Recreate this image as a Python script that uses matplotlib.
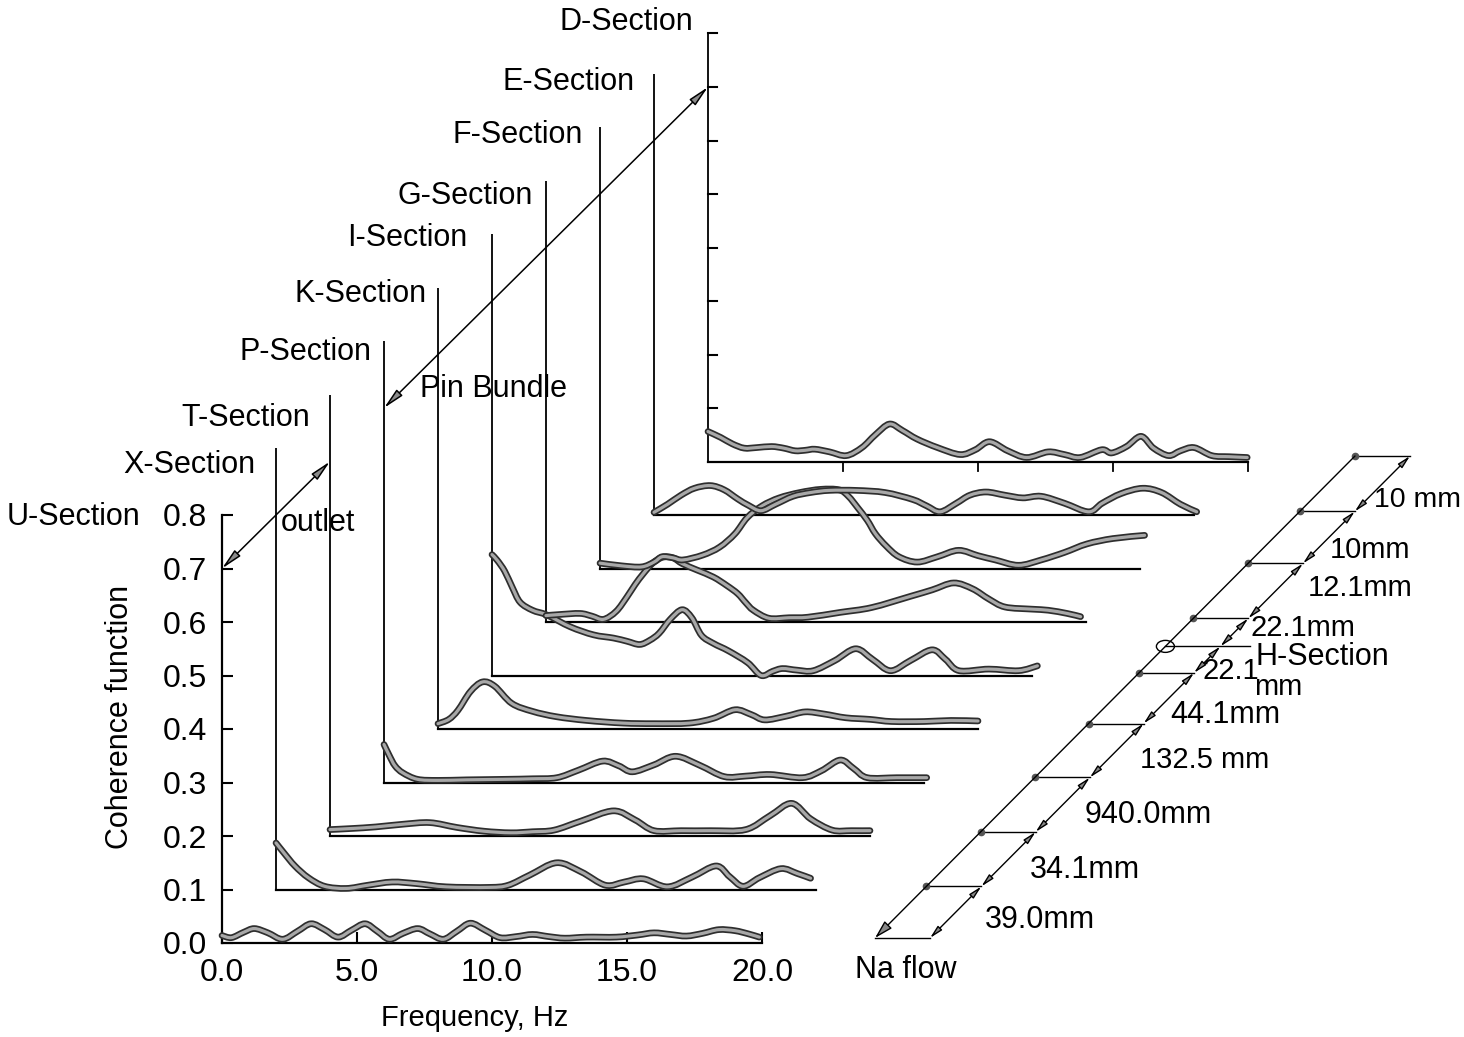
import numpy as np
import matplotlib
matplotlib.use("Agg")
import matplotlib.pyplot as plt
from matplotlib import patheffects as pe
from matplotlib.path import Path
from matplotlib.patches import PathPatch, Ellipse

plt.rcParams["font.family"] = ["Liberation Sans", "DejaVu Sans"]

# ---------------------------------------------------------------- data
section_names = ["U-Section", "X-Section", "T-Section", "P-Section", "K-Section",
                 "I-Section", "G-Section", "F-Section", "E-Section", "D-Section"]

# each section is shifted by this much in frequency (Hz) and coherence
freq_step = 2.0
coh_step = 0.1

freq_u = [0, 0.35, 0.8, 1.2, 1.7, 2.25, 2.8, 3.3, 3.8, 4.3, 4.8, 5.3, 5.75, 6.2, 6.7, 7.25,
          7.7, 8.2, 8.7, 9.2, 9.75, 10.3, 10.9, 11.5, 12.1, 12.7, 13.5, 14.6, 15.4, 16.0,
          16.6, 17.2, 17.8, 18.4, 19.0, 19.5, 19.9]
coh_u = [0.014, 0.01, 0.02, 0.027, 0.019, 0.007, 0.022, 0.036, 0.025, 0.011, 0.024, 0.036,
         0.022, 0.007, 0.018, 0.027, 0.017, 0.007, 0.022, 0.037, 0.024, 0.01, 0.012, 0.016,
         0.012, 0.009, 0.011, 0.011, 0.015, 0.019, 0.016, 0.013, 0.018, 0.025, 0.023, 0.017,
         0.011]

freq_x = [0, 0.3, 0.7, 1.2, 1.8, 2.6, 3.4, 4.3, 5.2, 6.3, 7.9, 8.6, 9.4, 10.4, 11.3, 12.2,
          12.9, 13.6, 14.5, 15.4, 16.3, 16.8, 17.3, 17.9, 18.7, 19.3, 19.8]
coh_x = [0.087, 0.068, 0.044, 0.022, 0.006, 0.002, 0.008, 0.014, 0.011, 0.005, 0.004, 0.008,
         0.027, 0.05, 0.033, 0.008, 0.014, 0.02, 0.005, 0.023, 0.044, 0.024, 0.006, 0.022,
         0.039, 0.03, 0.021]

freq_t = [0, 0.8, 1.7, 2.7, 3.7, 4.7, 5.7, 6.7, 7.5, 8.3, 9.3, 10.5, 11.3, 12.0, 13.0, 14.1,
          15.4, 16.3, 17.1, 17.8, 18.6, 19.3, 20.0]
coh_t = [0.012, 0.014, 0.017, 0.022, 0.025, 0.016, 0.009, 0.006, 0.008, 0.011, 0.028, 0.047,
         0.03, 0.01, 0.01, 0.01, 0.012, 0.038, 0.061, 0.032, 0.011, 0.01, 0.01]

freq_p = [0, 0.2, 0.41, 0.7, 1.24, 2.0, 3.06, 4.5, 5.5, 6.4, 7.2, 8.1, 8.7, 9.2, 10.0, 10.8,
          11.7, 12.6, 13.4, 14.3, 15.5, 16.2, 16.9, 17.4, 17.9, 19.0, 20.1]
coh_p = [0.071, 0.05, 0.031, 0.018, 0.006, 0.004, 0.005, 0.006, 0.007, 0.009, 0.023, 0.04,
         0.031, 0.02, 0.033, 0.049, 0.032, 0.011, 0.012, 0.015, 0.009, 0.022, 0.042, 0.026,
         0.009, 0.009, 0.009]

freq_k = [0, 0.4, 0.74, 1.2, 1.65, 2.1, 2.73, 3.5, 4.38, 5.5, 6.86, 8.0, 9.3, 10.2, 11.0,
          11.6, 12.1, 12.9, 13.6, 14.3, 15.1, 16.0, 16.8, 18.0, 19.0, 20.0]
coh_k = [0.01, 0.018, 0.035, 0.07, 0.088, 0.08, 0.048, 0.033, 0.023, 0.016, 0.011, 0.01,
         0.011, 0.02, 0.036, 0.027, 0.017, 0.024, 0.032, 0.028, 0.021, 0.018, 0.014, 0.014,
         0.016, 0.015]

freq_i = [0, 0.2, 0.47, 0.75, 1.04, 1.5, 2.04, 2.9, 3.76, 4.5, 5.0, 5.47, 5.85, 6.19, 6.6,
          7.04, 7.4, 7.76, 8.2, 8.76, 9.47, 9.97, 10.4, 10.76, 11.3, 11.9, 12.7, 13.47, 14.1,
          14.76, 15.5, 16.3, 16.8, 17.3, 18.4, 19.5, 20.2]
coh_i = [0.226, 0.215, 0.195, 0.165, 0.137, 0.122, 0.113, 0.091, 0.076, 0.07, 0.064, 0.058,
         0.066, 0.079, 0.105, 0.123, 0.108, 0.075, 0.06, 0.046, 0.024, 0.0, 0.008, 0.013,
         0.01, 0.009, 0.028, 0.05, 0.03, 0.009, 0.028, 0.048, 0.03, 0.009, 0.012, 0.009,
         0.018]

freq_g = [0, 0.5, 1.26, 1.7, 2.13, 2.6, 3.0, 3.3, 3.6, 3.95, 4.32, 4.7, 5.05, 5.6, 6.2, 6.7,
          7.1, 7.4, 7.68, 8.26, 9.0, 9.7, 10.9, 12.06, 13.5, 14.3, 15.1, 15.8, 16.4, 17.0,
          18.0, 18.6, 19.3, 19.8]
coh_g = [0.012, 0.014, 0.016, 0.011, 0.005, 0.02, 0.047, 0.07, 0.09, 0.11, 0.121, 0.12,
         0.109, 0.097, 0.084, 0.068, 0.053, 0.036, 0.022, 0.007, 0.008, 0.009, 0.018, 0.027,
         0.048, 0.06, 0.073, 0.062, 0.043, 0.028, 0.024, 0.022, 0.016, 0.01]

freq_f = [0, 0.8, 1.54, 2.0, 2.3, 2.7, 3.07, 3.8, 4.43, 5.0, 5.45, 6.0, 6.64, 7.4, 8.18,
          8.86, 9.2, 9.54, 9.9, 10.2, 10.6, 11.07, 11.75, 12.5, 13.28, 14.0, 14.64, 15.5,
          16.34, 17.2, 18.04, 19.0, 20.17]
coh_f = [0.01, 0.005, 0.003, 0.012, 0.022, 0.02, 0.016, 0.025, 0.04, 0.065, 0.095, 0.117,
         0.132, 0.142, 0.148, 0.147, 0.135, 0.114, 0.09, 0.065, 0.042, 0.022, 0.012, 0.022,
         0.034, 0.024, 0.016, 0.006, 0.016, 0.03, 0.046, 0.056, 0.062]

freq_e = [0, 0.5, 1.0, 1.5, 2.09, 2.6, 3.1, 3.5, 3.96, 4.5, 5.15, 5.8, 6.5, 7.5, 8.56, 9.58,
          10.1, 10.6, 11.2, 11.7, 12.3, 13.0, 13.66, 14.34, 15.2, 16.1, 16.6, 17.3, 18.1,
          18.8, 19.5, 20.1]
coh_e = [0.005, 0.02, 0.037, 0.05, 0.055, 0.047, 0.03, 0.018, 0.008, 0.02, 0.035, 0.042,
         0.046, 0.046, 0.042, 0.029, 0.017, 0.006, 0.022, 0.037, 0.043, 0.037, 0.032, 0.035,
         0.022, 0.006, 0.022, 0.04, 0.05, 0.042, 0.02, 0.006]

freq_d = [0, 0.47, 0.9, 1.34, 1.8, 2.36, 2.8, 3.23, 3.6, 3.96, 4.5, 5.12, 5.7, 6.2, 6.72,
          7.2, 7.74, 8.5, 9.34, 9.9, 10.43, 11.1, 11.8, 12.6, 13.2, 13.78, 14.58, 14.95,
          15.5, 16.04, 16.5, 17.06, 17.5, 18.0, 18.66, 19.3, 19.97]
coh_d = [0.056, 0.045, 0.033, 0.025, 0.026, 0.028, 0.025, 0.02, 0.021, 0.023, 0.018, 0.011,
         0.026, 0.05, 0.07, 0.058, 0.042, 0.026, 0.013, 0.022, 0.037, 0.02, 0.0075, 0.018,
         0.013, 0.0075, 0.022, 0.016, 0.028, 0.047, 0.025, 0.011, 0.02, 0.026, 0.011, 0.009,
         0.0075]

section_freqs = [freq_u, freq_x, freq_t, freq_p, freq_k, freq_i, freq_g, freq_f, freq_e, freq_d]
section_cohs = [coh_u, coh_x, coh_t, coh_p, coh_k, coh_i, coh_g, coh_f, coh_e, coh_d]

freq_ticks = [0, 5, 10, 15, 20]
freq_ticklabels = ["0.0", "5.0", "10.0", "15.0", "20.0"]
coh_ticks = [0.0, 0.1, 0.2, 0.3, 0.4, 0.5, 0.6, 0.7, 0.8]
coh_ticklabels = ["0.0", "0.1", "0.2", "0.3", "0.4", "0.5", "0.6", "0.7", "0.8"]

# spacing labels along the test section (from the inlet end upwards)
gap_labels = ["39.0mm", "34.1mm", "940.0mm", "132.5 mm", "44.1mm", "22.1",
              "22.1mm", "12.1mm", "10mm", "10 mm"]

# ---------------------------------------------------------------- layout
W, H = 1464, 1037
fig = plt.figure(figsize=(W / 100, H / 100), dpi=100)

# pixel overlay for free-standing annotations
ov = fig.add_axes([0, 0, 1, 1], zorder=0)
ov.set_xlim(0, W)
ov.set_ylim(H, 0)
ov.axis("off")

# front (U-Section) axes; the other sections are stacked in its data space
x0_px, x1_px, y0_px, y1_px = 222, 762, 943, 515
ax = fig.add_axes([x0_px / W, (H - y0_px) / H, (x1_px - x0_px) / W, (y0_px - y1_px) / H],
                  zorder=1)
ax.patch.set_visible(False)
ax.set_xlim(0, 20)
ax.set_ylim(0, 0.8)
for s in ("top", "right"):
    ax.spines[s].set_visible(False)
for s in ("left", "bottom"):
    ax.spines[s].set_linewidth(1.6)
ax.set_xticks(freq_ticks)
ax.set_xticklabels(freq_ticklabels)
ax.set_yticks(coh_ticks)
ax.set_yticklabels(coh_ticklabels)
ax.tick_params(axis="both", direction="in", length=8, width=1.5, labelsize=23)
ax.tick_params(axis="x", pad=11)
ax.tick_params(axis="y", pad=11)

line_kw = dict(color="black", lw=1.3, clip_on=False, zorder=2, solid_capstyle="butt")

# per-section frames (vertical reference line + baseline)
vert_height = 0.825
px_per_hz = (x1_px - x0_px) / 20.0
px_per_coh = (y0_px - y1_px) / 0.8
for k in range(1, len(section_names)):
    bx, by = freq_step * k, coh_step * k
    top = 0.8 if k == len(section_names) - 1 else vert_height
    ax.plot([bx, bx], [by, by + top], **line_kw)
    ax.plot([bx, bx + 20], [by, by], color="black", lw=1.6, clip_on=False, zorder=2)

# rear (D-Section) axis ticks
kd = len(section_names) - 1
bxd, byd = freq_step * kd, coh_step * kd
tick_dx = 9 / px_per_hz
tick_dy = 9 / px_per_coh
for t in coh_ticks[1:]:
    ax.plot([bxd, bxd + tick_dx], [byd + t, byd + t], color="black", lw=1.5,
            clip_on=False, zorder=2)
for t in freq_ticks[1:]:
    ax.plot([bxd + t, bxd + t], [byd, byd - tick_dy], color="black", lw=1.3,
            clip_on=False, zorder=2)


def smooth_path(x, y):
    """Catmull-Rom curve through the points, as cubic Bezier segments."""
    pts = np.column_stack([x, y])
    n = len(pts)
    verts, codes = [pts[0]], [Path.MOVETO]
    for i in range(n - 1):
        p0 = pts[i - 1] if i > 0 else pts[i]
        p1, p2 = pts[i], pts[i + 1]
        p3 = pts[i + 2] if i + 2 < n else pts[i + 1]
        verts += [p1 + (p2 - p0) / 6.0, p2 - (p3 - p1) / 6.0, p2]
        codes += [Path.CURVE4] * 3
    return Path(verts, codes)


for k, (f, c) in enumerate(zip(section_freqs, section_cohs)):
    xs = np.asarray(f) + freq_step * k
    ys = np.asarray(c) + coh_step * k
    patch = PathPatch(smooth_path(xs, ys), fill=False, ec="#a8a8a8", lw=2.3,
                      transform=ax.transData, clip_on=False, zorder=4,
                      joinstyle="round", capstyle="round",
                      path_effects=[pe.Stroke(linewidth=4.8, foreground="#2e2e2e"),
                                    pe.Normal()])
    ax.add_patch(patch)

# double arrows linking the equal-height points of the frames
arrow_kw = dict(arrowstyle="<|-|>,head_length=0.9,head_width=0.18", lw=1.1,
                color="black", fc="#8a8a8a", shrinkA=0, shrinkB=0, mutation_scale=14)
ax.annotate("", xy=(0, 0.7), xytext=(freq_step * 2, coh_step * 2 + 0.7),
            arrowprops=arrow_kw, annotation_clip=False)
ax.annotate("", xy=(freq_step * 3, coh_step * 3 + 0.7),
            xytext=(freq_step * 9, coh_step * 9 + 0.7),
            arrowprops=arrow_kw, annotation_clip=False)

# section names
label_pos = [(140, 517), (255, 465), (310, 418), (372, 352), (427, 294),
             (467, 238), (533, 196), (583, 135), (635, 82), (693, 22)]
for name, (lx, ly) in zip(section_names, label_pos):
    ov.text(lx, ly, name, ha="right", va="center", fontsize=22)

ov.text(420, 389, "Pin Bundle", ha="left", va="center", fontsize=22)
ov.text(281, 523, "outlet", ha="left", va="center", fontsize=22)
ov.text(120, 717, "Coherence function", rotation=90, ha="center", va="center",
        fontsize=22)
ov.text(475, 1018, "Frequency, Hz", ha="center", va="center", fontsize=21)

# ------------------------------------------------ test-section sketch (pixels)
bl, br = np.array([875.0, 938.0]), np.array([930.0, 938.0])
tl, tr = np.array([1355.0, 456.0]), np.array([1410.0, 456.0])
rung_t = [0.0, 0.107, 0.22, 0.333, 0.445, 0.55, 0.605, 0.663, 0.777, 0.885, 1.0]
h_index = 6


def left_pt(t):
    return bl + t * (tl - bl)


def right_pt(t):
    return br + t * (tr - br)


thin = dict(color="black", lw=1.0)
ov.annotate("", xy=bl, xytext=tl,
            arrowprops=dict(arrowstyle="-|>,head_length=0.8,head_width=0.22", lw=1.0,
                            color="black", fc="#888888", shrinkA=0, shrinkB=0,
                            mutation_scale=14))
ov.plot([bl[0], br[0]], [bl[1], br[1]], **thin)
for i, t in enumerate(rung_t[1:], start=1):
    lp, rp = left_pt(t), right_pt(t)
    if i == h_index:
        ov.add_patch(Ellipse(lp, 18, 12, fill=False, ec="black", lw=1.0))
        ov.plot([lp[0], rp[0] + 30], [lp[1], lp[1]], **thin)
    else:
        ov.plot([lp[0], rp[0]], [lp[1], rp[1]], **thin)
        ov.plot(lp[0], lp[1], "o", ms=4.5, color="#555555")

dim_kw = dict(arrowstyle="<|-|>,head_length=0.7,head_width=0.16", lw=1.0,
              color="black", fc="#888888", shrinkA=0, shrinkB=0, mutation_scale=11)
for t_a, t_b in zip(rung_t[:-1], rung_t[1:]):
    ov.annotate("", xy=right_pt(t_b), xytext=right_pt(t_a), arrowprops=dim_kw)

gap_label_pos = [(985, 920), (1030, 870), (1085, 815), (1140, 760), (1170, 715),
                 (1203, 671), (1250, 628), (1308, 588), (1330, 550), (1374, 500)]
gap_label_size = [22, 22, 22, 21, 22, 21, 21, 21, 21, 20.5]
for txt, (gx, gy), fs in zip(gap_labels, gap_label_pos, gap_label_size):
    ov.text(gx, gy, txt, ha="left", va="center", fontsize=fs)
ov.text(1254, 687, "mm", ha="left", va="center", fontsize=21)
ov.text(1255, 657, "H-Section", ha="left", va="center", fontsize=22)
ov.text(855, 970, "Na flow", ha="left", va="center", fontsize=22)

fig.savefig("out.png", dpi=100, facecolor="white")
